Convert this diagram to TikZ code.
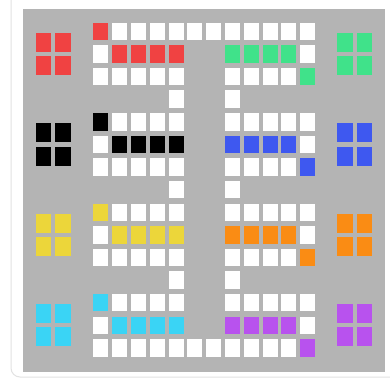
\documentclass[tikz,border=0pt]{standalone}
\definecolor{boardgray}{RGB}{180,180,180}
\definecolor{cardline}{RGB}{226,226,226}
\definecolor{pred}{RGB}{240,66,66}
\definecolor{pgreen}{RGB}{64,226,138}
\definecolor{pblue}{RGB}{62,88,240}
\definecolor{pyellow}{RGB}{236,214,58}
\definecolor{pcyan}{RGB}{58,212,245}
\definecolor{porange}{RGB}{250,140,20}
\definecolor{ppurple}{RGB}{184,82,238}

% one square of the track: column, row, colour
\newcommand{\boardcell}[3]{%
  \fill[#3] ({93.3+18.8*(#1)},{22.7+22.6*(#2)}) rectangle ++(15,17.5);}
% a 2x2 home base: x centre, row, colour
\newcommand{\homebase}[3]{%
  \foreach \i in {-1,1} {\foreach \j in {-1,1} {%
    \fill[#3] ({#1+\i*9.75-7.75},{22.7+22.6*(#2)+8.75+\j*11.7-9.5}) rectangle ++(15.5,19);}}}

\begin{document}
\begin{tikzpicture}[x=1pt,y=-1pt]
\useasboundingbox (0,0) rectangle (390,382);
\fill[white] (0,0) rectangle (390,382);
\draw[cardline, line width=1pt, rounded corners=9pt] (11,-20) rectangle (420,377);
\fill[boardgray] (23,9.5) rectangle (385,371.5);

% track
\foreach \c in {0,...,11} {\boardcell{\c}{0}{white}\boardcell{\c}{14}{white}}
\foreach \r in {0,4,8,12} {
  \foreach \d in {0,1,2} {
    \foreach \c in {0,1,2,3,4,7,8,9,10,11} {\boardcell{\c}{\r+\d}{white}}
  }
}
\foreach \r in {3,7,11} {\boardcell{4}{\r}{white}\boardcell{7}{\r}{white}}

% coloured lanes and homes
\foreach \r/\lc/\rc in {0/pred/pgreen, 4/black/pblue, 8/pyellow/porange, 12/pcyan/ppurple} {
  \boardcell{0}{\r}{\lc}
  \foreach \c in {1,...,4} {\boardcell{\c}{\r+1}{\lc}}
  \foreach \c in {7,...,10} {\boardcell{\c}{\r+1}{\rc}}
  \boardcell{11}{\r+2}{\rc}
  \homebase{53.3}{\r+1}{\lc}
  \homebase{354.5}{\r+1}{\rc}
}
\end{tikzpicture}
\end{document}
